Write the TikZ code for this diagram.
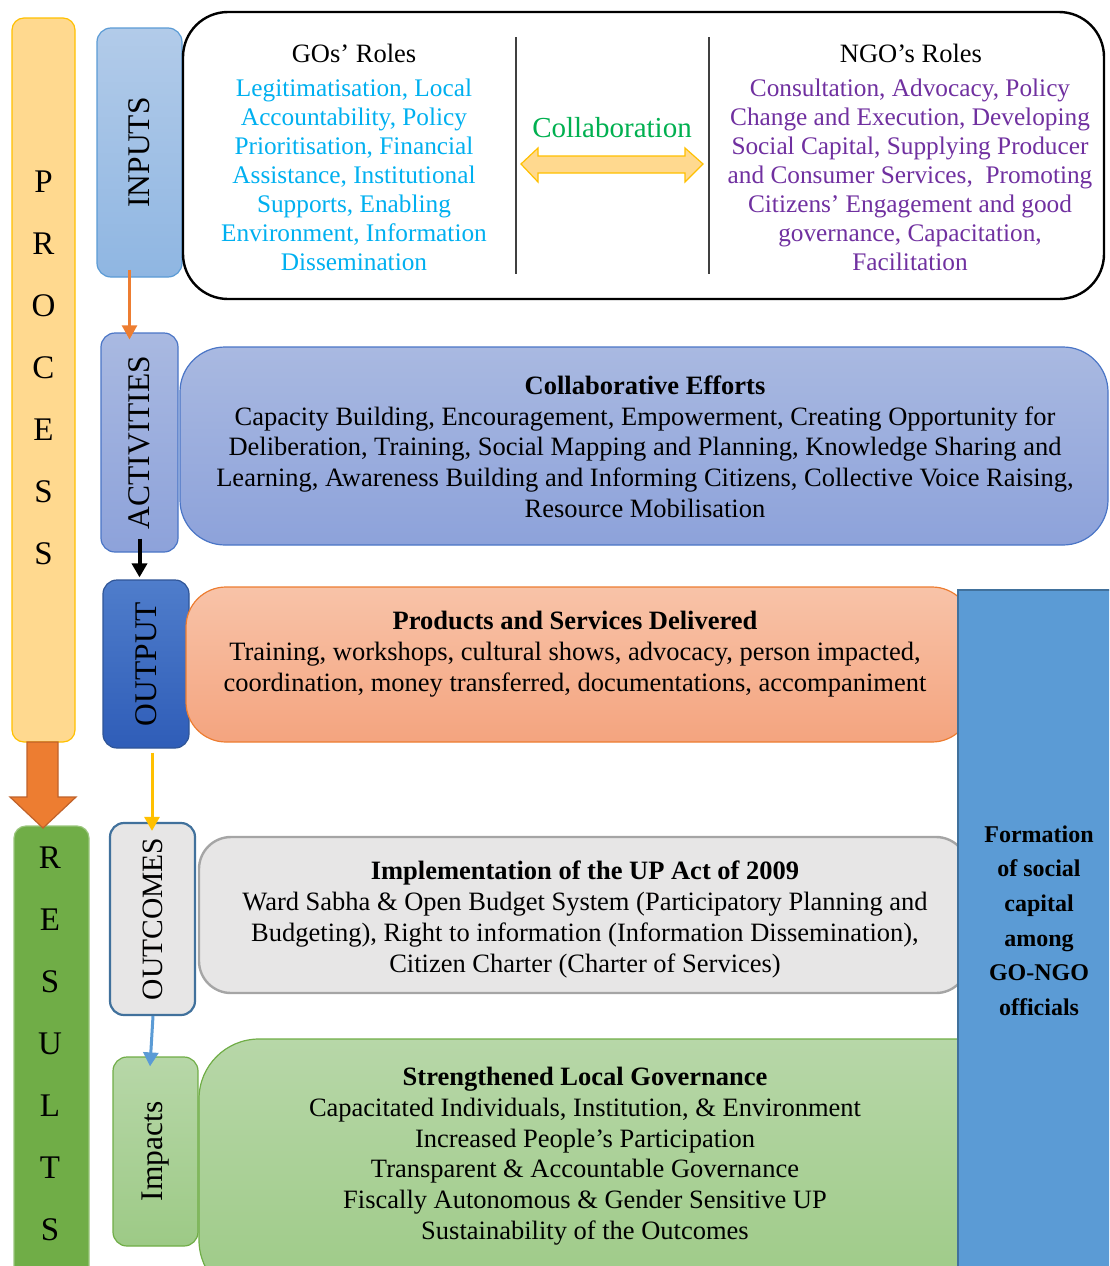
\documentclass[tikz,border=0pt]{standalone}
\usepackage{fontspec}
\setmainfont{Liberation Serif}
\usepackage{tikz}
\usetikzlibrary{arrows.meta,positioning}
\definecolor{procfill}{HTML}{FFD98F}
\definecolor{procbord}{HTML}{FFC000}
\definecolor{arroworange}{HTML}{ED7D31}
\definecolor{arrowbord}{HTML}{C0622A}
\definecolor{resfill}{HTML}{70AD47}
\definecolor{intop}{HTML}{B2CBE9}
\definecolor{inbot}{HTML}{8FB6E2}
\definecolor{inbord}{HTML}{5B9BD5}
\definecolor{acttop}{HTML}{A9B9E1}
\definecolor{actbot}{HTML}{8DA2DA}
\definecolor{actbord}{HTML}{4A75C6}
\definecolor{outtop}{HTML}{4F7DCB}
\definecolor{outbot}{HTML}{2F5DB8}
\definecolor{outbord}{HTML}{2F5597}
\definecolor{prodtop}{HTML}{F8C3A8}
\definecolor{prodbot}{HTML}{F4A47F}
\definecolor{formfill}{HTML}{5B9BD5}
\definecolor{formbord}{HTML}{41719C}
\definecolor{greyfill}{HTML}{E7E6E6}
\definecolor{greybord}{HTML}{A5A5A5}
\definecolor{imptop}{HTML}{B7D7A8}
\definecolor{impbot}{HTML}{9DCA86}
\definecolor{goblue}{HTML}{00B0F0}
\definecolor{ngopurple}{HTML}{7030A0}
\definecolor{collabgreen}{HTML}{00B050}
\tikzset{side box/.style={draw,rounded corners=14pt,line width=1.2pt,inner sep=0pt},
         main box/.style={draw,rounded corners=40pt,line width=1.2pt,inner sep=0pt},
         side label/.style={rotate=90,font=\fontsize{31.5}{31.5}\selectfont},
         body text/.style={align=center,font=\fontsize{26.5}{30.7}\selectfont},
         role text/.style={align=center,font=\fontsize{25.3}{29}\selectfont},
         role head/.style={font=\fontsize{26.5}{26.5}\selectfont},
         letter/.style={font=\fontsize{33}{33}\selectfont},
         flow/.style={->,line width=2.5pt},
}

\begin{document}
\begin{tikzpicture}[x=1pt,y=-1pt,>={Triangle[length=14pt,width=15pt]}]
\useasboundingbox (0,0) rectangle (1109,1266);
\clip (0,0) rectangle (1109,1266);
% left bars
\node[side box,draw=procbord,fill=procfill,rounded corners=12pt,minimum width=63pt,minimum height=724pt] (process) at (43.5,380) {};
\foreach \ch [count=\i] in {P,R,O,C,E,S,S}
    \node[letter] (p\i) at (43.5,{182+62*(\i-1)}) {\ch};
\node[side box,draw=resfill!70!white,fill=resfill,rounded corners=12pt,minimum width=75pt,minimum height=464pt] (results) at (51.5,1058) {};
\foreach \ch [count=\i] in {R,E,S,U,L,T,S}
    \node[letter] (r\i) at (50,{858+62*(\i-1)}) {\ch};
\draw[fill=arroworange,draw=arrowbord,line width=1.2pt] (27,742) -- (58,742) -- (58,797) -- (76,797)
    -- (43,828) -- (10,797) -- (27,797) -- cycle;

% stage boxes
\node[side box,draw=inbord,top color=intop,bottom color=inbot,minimum width=85pt,minimum height=249pt,
      label={[side label]center:INPUTS}] (inputs) at (139.5,152.5) {};
\node[side box,draw=actbord,top color=acttop,bottom color=actbot,minimum width=77pt,minimum height=219pt,
      label={[side label]center:ACTIVITIES}] (activities) at (139.5,442.5) {};
\node[side box,draw=outbord,top color=outtop,bottom color=outbot,minimum width=86pt,minimum height=168pt,
      label={[side label]center:OUTPUT}] (output) at (146,664) {};
\node[side box,draw=formbord,fill=greyfill,line width=2.2pt,minimum width=85pt,minimum height=192pt,
      label={[side label,font=\fontsize{29.5}{29.5}\selectfont]center:OUTCOMES}] (outcomes) at (152.5,919) {};
\node[side box,draw=resfill,top color=imptop,bottom color=impbot,minimum width=85pt,minimum height=189pt,
      label={[side label]center:Impacts}] (impacts) at (155.5,1151.5) {};

% content boxes
\node[main box,draw=black,fill=white,line width=2.4pt,rounded corners=45pt,minimum width=921pt,minimum height=287pt] (roles) at (643.5,155.5) {};
\draw[line width=1.5pt,black!75] (516,37) -- (516,274);
\draw[line width=1.5pt,black!75] (709,37) -- (709,274);
\node[role head] (gohead) at (354,53) {GOs’ Roles};
\node[role text,text=goblue] (gotext) at (354,175) {Legitimatisation, Local\\ Accountability, Policy\\ Prioritisation, Financial\\ Assistance, Institutional\\ Supports, Enabling\\ Environment, Information\\ Dissemination};
\node[role head] (ngohead) at (911,53) {NGO’s Roles};
\node[role text,text=ngopurple] (ngotext) at (910,175) {Consultation, Advocacy, Policy\\ Change and Execution, Developing\\ Social Capital, Supplying Producer\\ and Consumer Services,\ \ Promoting\\ Citizens’ Engagement and good\\ governance, Capacitation,\\ Facilitation};
\node[text=collabgreen,font=\fontsize{29}{29}\selectfont] (collab) at (612,128) {Collaboration};
\draw[fill=procfill,draw=procbord,line width=1.2pt] (521,164) -- (538,148) -- (538,156) -- (685,156) -- (685,148)
    -- (703,164) -- (685,182) -- (685,173) -- (538,173) -- (538,182) -- cycle;

\node[main box,draw=actbord,top color=acttop,bottom color=actbot,rounded corners=45pt,minimum width=928pt,minimum height=198pt] (efforts) at (644,446) {};
\node[body text] (effortstext) at (645,446.5) {\textbf{Collaborative Efforts}\\ Capacity Building, Encouragement, Empowerment, Creating Opportunity for\\ Deliberation, Training, Social Mapping and Planning, Knowledge Sharing and\\ Learning, Awareness Building and Informing Citizens, Collective Voice Raising,\\ Resource Mobilisation};

\node[main box,draw=arroworange,top color=prodtop,bottom color=prodbot,minimum width=786pt,minimum height=155pt] (products) at (579,664.5) {};
\node[body text] (productstext) at (575,654) {\textbf{Products and Services Delivered}\\ Training, workshops, cultural shows, advocacy, person impacted,\\ coordination, money transferred, documentations, accompaniment};

\node[main box,draw=greybord,fill=greyfill,line width=2.4pt,rounded corners=32pt,minimum width=769pt,minimum height=156pt] (implementation) at (583.5,915) {};
\node[body text] (implementationtext) at (585,919.5) {\textbf{Implementation of the UP Act of 2009}\\ Ward Sabha \& Open Budget System (Participatory Planning and\\ Budgeting), Right to information (Information Dissemination),\\ Citizen Charter (Charter of Services)};

\node[main box,draw=resfill,top color=imptop,bottom color=impbot,rounded corners=60pt,minimum width=901pt,minimum height=261pt] (governance) at (649.5,1169.5) {};
\node[body text] (governancetext) at (585,1156) {\textbf{Strengthened Local Governance}\\ Capacitated Individuals, Institution, \& Environment\\ Increased People’s Participation\\ Transparent \& Accountable Governance\\ Fiscally Autonomous \& Gender Sensitive UP\\ Sustainability of the Outcomes};

\node[draw=formbord,fill=formfill,line width=2.4pt,minimum width=162pt,minimum height=700pt] (formation) at (1039,940) {};
\node[align=center,font=\bfseries\fontsize{24}{34.6}\selectfont] (formationtext) at (1039,920.5) {Formation\\ of social\\ capital\\ among\\ GO-NGO\\ officials};

% flow arrows
\draw[flow,draw=arroworange] ([xshift=-10pt,yshift=8pt]inputs.south) -- ([xshift=-10pt,yshift=-7pt]activities.north);
\draw[flow,black,line width=4pt] ([yshift=14pt]activities.south) -- ([yshift=2pt]activities.south |- output.north);
\draw[flow,draw=procbord,line width=3pt] ([xshift=6pt,yshift=-4pt]output.south) -- ([xshift=-0.5pt,yshift=-9pt]outcomes.north);
\draw[flow,draw=inbord,line width=3pt] ([xshift=0.5pt]outcomes.south) -- ([xshift=-5.5pt,yshift=-10pt]impacts.north);
\end{tikzpicture}
\end{document}
